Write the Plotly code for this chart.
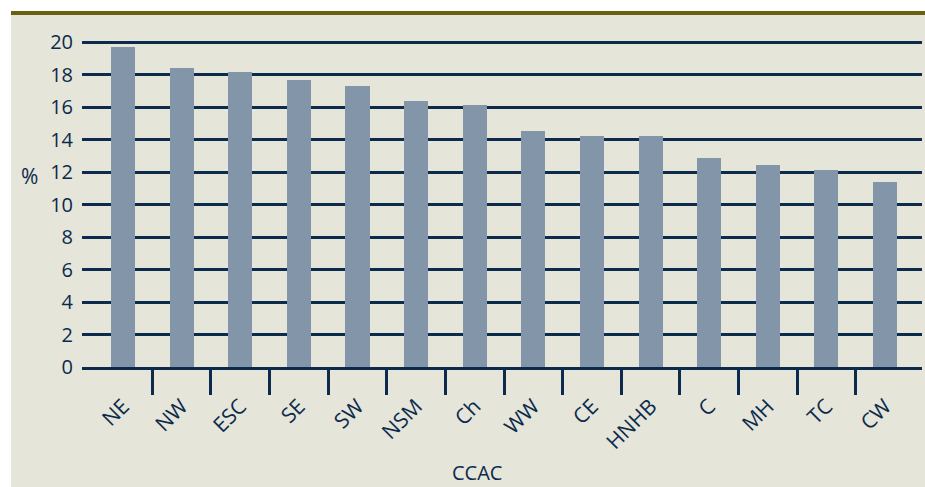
import plotly.graph_objects as go

categories = ["NE", "NW", "ESC", "SE", "SW", "NSM", "Ch", "WW", "CE", "HNHB", "C", "MH", "TC", "CW"]
values = [19.7, 18.4, 18.15, 17.65, 17.3, 16.4, 16.15, 14.55, 14.25, 14.25, 12.85, 12.45, 12.15, 11.4]
y_ticks = [0, 2, 4, 6, 8, 10, 12, 14, 16, 18, 20]

NAVY = "#0b2a4c"
BAR = "#8395a9"
BG = "#e5e5d9"
OLIVE = "#6b5f10"
FONT = "Open Sans"

xs = list(range(len(categories)))
xrange_ = [-0.70, len(categories) - 1 + 0.63]

fig = go.Figure()
fig.add_trace(go.Bar(x=xs, y=values, marker=dict(color=BAR, line=dict(width=0)),
                     width=0.41, xaxis="x", yaxis="y", showlegend=False, hoverinfo="skip"))
fig.add_trace(go.Scatter(x=xs, y=[0] * len(xs), mode="markers", marker=dict(opacity=0),
                         xaxis="x2", yaxis="y", showlegend=False, hoverinfo="skip"))

W, H = 925, 487
ml, mr, mt, mb = 82, 3, 39, 120
ph = H - mt - mb
pw = W - ml - mr

def px_x(p):
    return (p - ml) / pw

def px_y(p):
    return (H - mb - p) / ph

fig.update_layout(
    width=W, height=H,
    margin=dict(l=ml, r=mr, t=mt, b=mb, pad=0),
    paper_bgcolor="white",
    plot_bgcolor="rgba(0,0,0,0)",
    font=dict(family=FONT, color=NAVY, size=20),
    bargap=0,
    xaxis=dict(range=xrange_, tickvals=[i + 0.5 for i in range(len(categories) - 1)],
               showticklabels=False, ticks="outside", ticklen=25, tickwidth=3, tickcolor=NAVY,
               showgrid=False, zeroline=False, showline=True, linecolor=NAVY, linewidth=3,
               fixedrange=True),
    xaxis2=dict(range=xrange_, overlaying="x", side="bottom", anchor="y",
                tickvals=xs, ticktext=categories, tickangle=-45, ticks="",
                showgrid=False, zeroline=False, showline=False,
                ticklabelstandoff=22, tickfont=dict(size=21, color=NAVY, family=FONT)),
    yaxis=dict(range=[0, 20.2], tickvals=y_ticks, ticks="", showgrid=True, gridcolor=NAVY,
               gridwidth=3, zeroline=False, showline=False, ticklabelstandoff=8,
               tickfont=dict(size=20, color=NAVY, family=FONT)),
    shapes=[
        dict(type="rect", xref="paper", yref="paper", x0=px_x(11), x1=px_x(925),
             y0=px_y(487), y1=px_y(15), fillcolor=BG, line=dict(width=0), layer="below"),
        dict(type="rect", xref="paper", yref="paper", x0=px_x(11), x1=px_x(925),
             y0=px_y(15), y1=px_y(11), fillcolor=OLIVE, line=dict(width=0), layer="below"),
    ],
    annotations=[
        dict(text="%", xref="paper", yref="paper", x=px_x(29.5), y=px_y(176),
             xanchor="center", yanchor="middle", showarrow=False,
             font=dict(size=21, color=NAVY, family=FONT)),
        dict(text="CCAC", xref="paper", yref="paper", x=px_x(477), y=px_y(472),
             xanchor="center", yanchor="middle", showarrow=False,
             font=dict(size=20, color=NAVY, family=FONT)),
    ],
)

fig.write_html("out.html", config={"displayModeBar": False},
               post_script="document.body.style.margin='0px';document.body.style.overflow='hidden';")
